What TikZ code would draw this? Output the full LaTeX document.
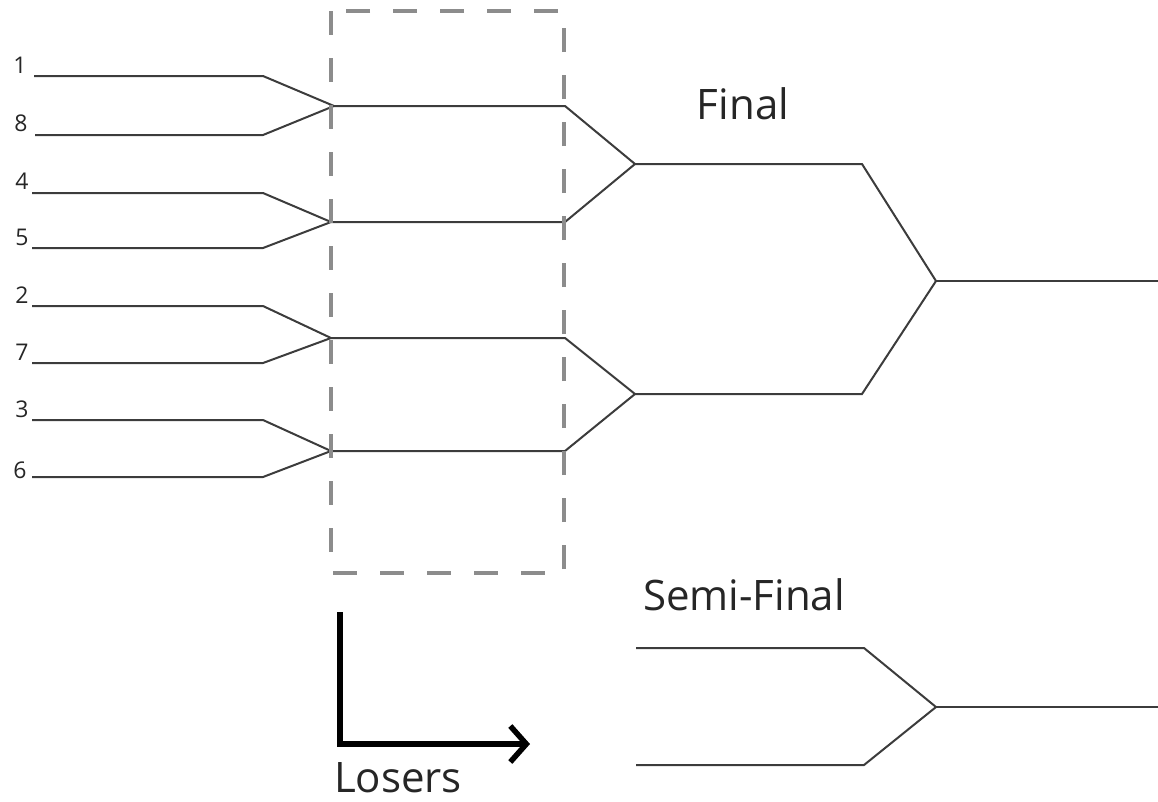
\documentclass[tikz,border=0pt]{standalone}
\usepackage{fontspec}
\setmainfont{Open Sans}
\usetikzlibrary{arrows.meta}
\definecolor{ln}{HTML}{3C3C3C}
\definecolor{dash}{HTML}{8C8C8C}
\begin{document}
\begin{tikzpicture}[x=1pt,y=-1pt,
  bline/.style={draw=ln,line width=2pt},
  seed/.style={font=\fontsize{23}{25}\selectfont,anchor=base,inner sep=0pt,text=black!85},
  title/.style={font=\fontsize{42}{46}\selectfont,inner sep=0pt,text=black!85},
  losersbox/.style={draw=dash,line width=3.4pt,dash pattern=on 24pt off 23pt},
  loserarrow/.style={draw=black,line width=5.5pt,-{Straight Barb[length=16pt,width=36pt,line width=5.5pt]}}]
\useasboundingbox (0,0) rectangle (1158,801);
% seeds
\node[seed] (s1) at (20,73) {1};
\node[seed] (s8) at (21,131) {8};
\node[seed] (s4) at (22,189) {4};
\node[seed] (s5) at (22,245) {5};
\node[seed] (s2) at (22,303) {2};
\node[seed] (s7) at (22,360) {7};
\node[seed] (s3) at (22,417) {3};
\node[seed] (s6) at (20,478) {6};
% line starts
\coordinate (a1) at (34,76);
\coordinate (a8) at (35,135);
\coordinate (a4) at (32,193);
\coordinate (a5) at (32,248);
\coordinate (a2) at (32,306);
\coordinate (a7) at (32,363);
\coordinate (a3) at (32,420);
\coordinate (a6) at (32,477);
% first-round junctions
\coordinate (j18) at (334,106);
\coordinate (j45) at (331,222);
\coordinate (j27) at (331,338);
\coordinate (j36) at (331,451);
% semifinal junctions
\coordinate (jA) at (635,164);
\coordinate (jB) at (635,394);
% final
\coordinate (jF) at (936,281);
\coordinate (endF) at (1158,281);
% first round
\draw[bline] (a1) -- (263,76) -- (j18);
\draw[bline] (a8) -- (263,135) -- (j18);
\draw[bline] (a4) -- (263,193) -- (j45);
\draw[bline] (a5) -- (263,248) -- (j45);
\draw[bline] (a2) -- (263,306) -- (j27);
\draw[bline] (a7) -- (263,363) -- (j27);
\draw[bline] (a3) -- (263,420) -- (j36);
\draw[bline] (a6) -- (263,477) -- (j36);
% second round
\draw[bline] (j18) -- (565,106) -- (jA);
\draw[bline] (j45) -- (565,222) -- (jA);
\draw[bline] (j27) -- (565,338) -- (jB);
\draw[bline] (j36) -- (565,451) -- (jB);
% final round
\draw[bline] (jA) -- (862,164) -- (jF);
\draw[bline] (jB) -- (862,394) -- (jF);
\draw[bline] (jF) -- (endF);
% losers box
\draw[losersbox] (331,11) rectangle (564,573);
% titles
\node[title] (final) at (743,104) {Final};
\node[title] (semi) at (744,595) {Semi-Final};
% semifinal bracket
\coordinate (sa) at (636,648);
\coordinate (sb) at (636,765);
\coordinate (sj) at (936,707);
\coordinate (se) at (1158,707);
\draw[bline] (sa) -- (864,648) -- (sj);
\draw[bline] (sb) -- (864,765) -- (sj);
\draw[bline] (sj) -- (se);
% losers arrow
\coordinate (lt) at (340,612);
\coordinate (lc) at (340,744);
\coordinate (lh) at (530,744);
\draw[loserarrow] (lt) -- (lc) -- (lh);
\node[title,anchor=base] (losers) at (398,792) {Losers};
\end{tikzpicture}
\end{document}
